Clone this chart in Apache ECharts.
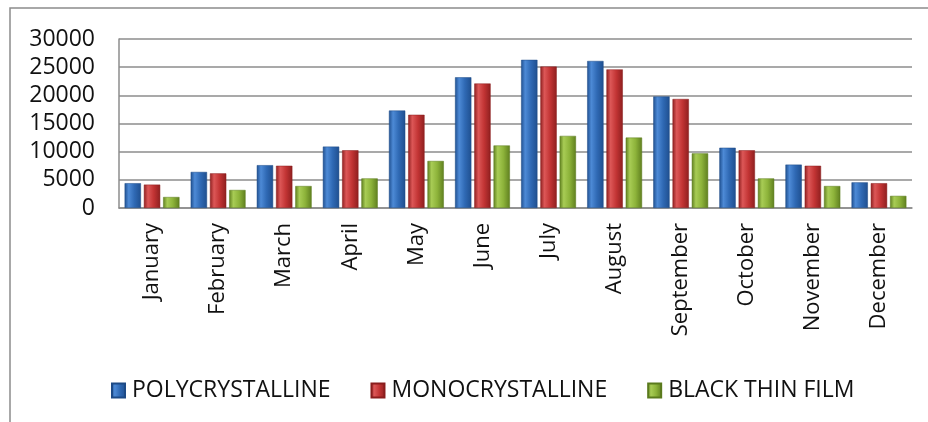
<!DOCTYPE html>
<html><head><meta charset="utf-8">
<script src="https://cdn.jsdelivr.net/npm/echarts@6/dist/echarts.min.js"></script>
<style>html,body{margin:0;padding:0;background:#fff}#c{width:928px;height:422px}</style>
</head><body><div id="c"></div>
<script>
const months = ['January','February','March','April','May','June','July','August','September','October','November','December'];
const poly = [4400, 6400, 7600, 10900, 17300, 23200, 26300, 26100, 19800, 10700, 7700, 4550];
const mono = [4150, 6150, 7500, 10250, 16550, 22100, 25100, 24600, 19350, 10250, 7500, 4400];
const thin = [1950, 3200, 3900, 5250, 8350, 11100, 12800, 12500, 9700, 5250, 3900, 2150];
const yTicks = [0, 5000, 10000, 15000, 20000, 25000, 30000];

function grad(dark, mid, light){
  return new echarts.graphic.LinearGradient(0,0,1,0,[
    {offset:0,color:dark},{offset:0.25,color:light},{offset:0.6,color:mid},{offset:1,color:dark}]);
}
const blue = grad('#1f4f8f','#2f69b4','#4d8ad6');
const red = grad('#8e1f1f','#c23434','#dc5757');
const green = grad('#5f7f1f','#8db33a','#a8cc55');
const font = '"Open Sans", "Liberation Sans", sans-serif';

const chart = echarts.init(document.getElementById('c'));
chart.setOption({
  animation:false,
  graphic:[{type:'rect',shape:{x:10,y:8,width:930,height:430},style:{fill:'none',stroke:'#8c8c8c',lineWidth:1.5}}],
  grid:{left:119,right:16,top:39,bottom:214},
  legend:{top:374,left:106,itemGap:40,itemWidth:13,itemHeight:14,
    textStyle:{fontFamily:font,fontSize:23,color:'#111',padding:[0,0,0,2]},icon:'rect',
    data:['POLYCRYSTALLINE','MONOCRYSTALLINE','BLACK THIN FILM']},
  xAxis:{type:'category',data:months,
    axisLine:{lineStyle:{color:'#8c8c8c',width:1.5}},axisTick:{show:false},
    axisLabel:{rotate:90,fontFamily:font,fontSize:22,color:'#111',margin:15,interval:0}},
  yAxis:{type:'value',min:yTicks[0],max:yTicks[yTicks.length-1],interval:5000,
    axisLine:{show:true,lineStyle:{color:'#8c8c8c',width:1.5}},axisTick:{show:false},
    splitLine:{lineStyle:{color:'#8c8c8c',width:1.5}},
    axisLabel:{fontFamily:font,fontSize:23,color:'#111',margin:24,formatter:v=>String(v)}},
  series:[
    {name:'POLYCRYSTALLINE',type:'bar',data:poly,itemStyle:{color:blue,borderColor:'#1d4a86',borderWidth:0.5},barGap:'18%',barCategoryGap:'17%'},
    {name:'MONOCRYSTALLINE',type:'bar',data:mono,itemStyle:{color:red,borderColor:'#8a1d1d',borderWidth:0.5}},
    {name:'BLACK THIN FILM',type:'bar',data:thin,itemStyle:{color:green,borderColor:'#5a7a1d',borderWidth:0.5}}
  ]
});
</script></body></html>
